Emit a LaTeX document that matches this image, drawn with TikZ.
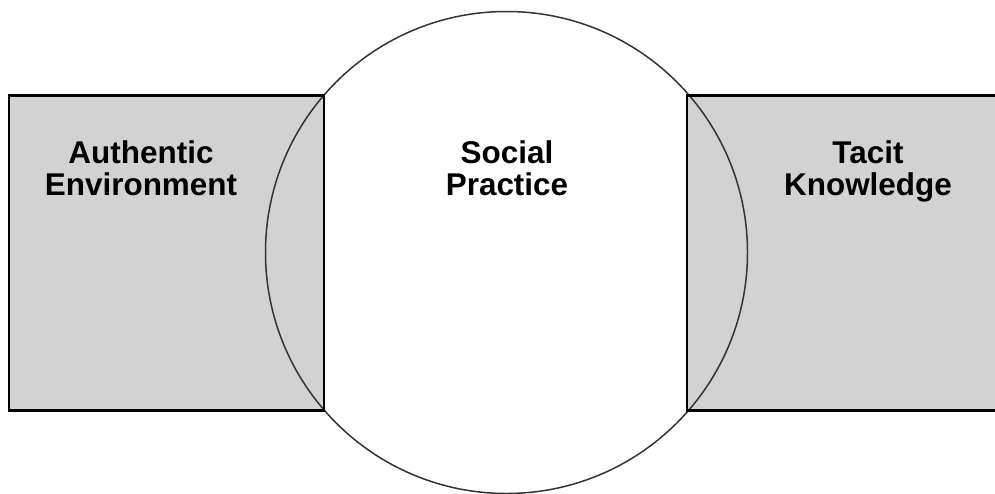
\documentclass[tikz,border=0pt]{standalone}
\usepackage{fontspec}
\setmainfont{Liberation Sans}
\usetikzlibrary{positioning}

\begin{document}
\begin{tikzpicture}[x=0.02cm,y=-0.02cm,
    area/.style={fill=gray!35},
    rim/.style={draw=black,line width=1.4pt},
    ring/.style={draw=black!80,line width=0.85pt},
    title/.style={font=\bfseries\fontsize{17.9}{18.2}\selectfont,align=center,anchor=north,inner sep=0pt}]
    \useasboundingbox (0,0) rectangle (995,494);
    \clip (0,0) rectangle (995,494);
    % circle in the middle, boxes on both sides
    \coordinate (centre) at (506.5,252.5);
    \fill[white] (centre) circle[radius=241];
    \fill[area] (9,95.5) rectangle (324,410.5);
    \fill[area] (687,95.5) rectangle (1000,410.5);
    \draw[ring] (centre) circle[radius=241];
    \draw[rim] (9,95.5) rectangle (324,410.5);
    \draw[rim] (1000,95.5) -- (687,95.5) -- (687,410.5) -- (1000,410.5);
    % labels
    \node[title] (auth) at (141,140.4) {Authentic\\Environment};
    \node[title] (social) at (507,140.4) {Social\\Practice};
    \node[title] (tacit) at (868,140.4) {Tacit\\Knowledge};
\end{tikzpicture}
\end{document}
